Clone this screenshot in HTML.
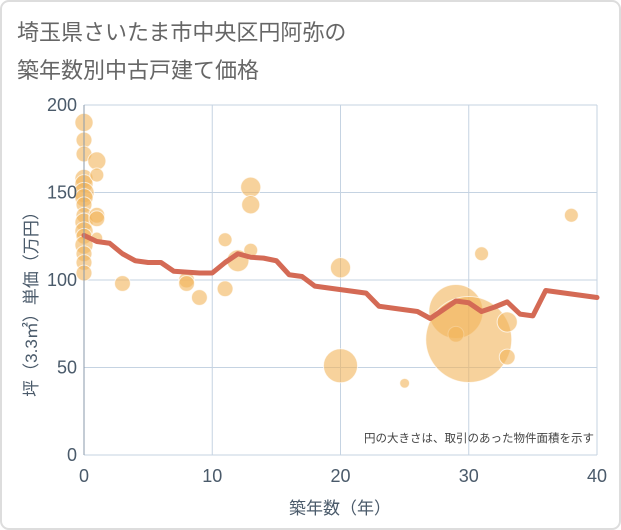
<!DOCTYPE html>
<html><head><meta charset="utf-8"><style>
body{margin:0;background:#fff;}
#wrap{position:relative;width:621px;height:530px;overflow:hidden;font-family:"Liberation Sans","Noto Sans CJK JP",sans-serif;}
</style></head><body>
<div id="wrap">
<svg id="chart" width="621" height="530" xmlns="http://www.w3.org/2000/svg">
<rect x="1" y="1" width="619" height="528" rx="8" fill="#fff" stroke="#ddd" stroke-width="2"/>
<text x="17" y="40" font-size="22" fill="#666">埼玉県さいたま市中央区円阿弥の</text>
<text x="17" y="78" font-size="22" fill="#666">築年数別中古戸建て価格</text>
<g id="grid"></g>
<g id="bubbles"></g>
<g id="line"></g>
<g id="axes"></g>
<text x="594" y="442" font-size="11.5" fill="#444" text-anchor="end">円の大きさは、取引のあった物件面積を示す</text>
<text x="340" y="514" font-size="17" fill="#4a5a6a" text-anchor="middle">築年数（年）</text>
<text transform="translate(37,300) rotate(-90)" font-size="17" fill="#4a5a6a" text-anchor="middle">坪（3.3㎡）単価（万円）</text>
</svg>
</div>
<script>
const xTicks=[0,10,20,30,40];
const yTicks=[0,50,100,150,200];
const lineYears=[0,1,2,3,4,5,6,7,8,9,10,11,12,13,14,15,16,17,18,19,20,21,22,23,24,25,26,27,28,29,30,31,32,33,34,35,36,37,38,39,40];
const lineValues=[125.5,122,121,115,111,110,110,105,104.5,104,104,110,115,113,112.5,111,103,102,96.5,95.5,94.5,93.5,92.5,85,84,83,82,78,83,88,87,82,84.5,87.5,80.5,79.5,94,93,92,91,90];
const bubbleYears=[0,0,0,0,0,0,0,0,0,0,0,0,0,0,0,0,1,1,1,1,1,3,8,8,9,11,11,12,13,13,13,20,20,25,29,29,30,31,33,33,38];
const bubbleValues=[190,180,172,158,155,150,147,143,137,133,128,125,120,115,110,104,168,160,137,135,124,98,100,98,90,123,95,111,153,143,117,107,51,41,82,69,66,115,76,56,137];
const bubbleAreas=[17,13,13,17,17,21,17,13,13,17,17,13,17,13,13,13,17,10,13,13,7,13,13,13,13,10,13,25,21,17,10,21,60,5,151,13,382,10,21,13,10];
const X0=84,X1=597,Y0=455,Y1=105;
const xs=v=>X0+(v-0)/(40-0)*(X1-X0);
const ys=v=>Y0-(v-0)/(200-0)*(Y0-Y1);
const NS="http://www.w3.org/2000/svg";
function mk(tag,attrs,parent){const e=document.createElementNS(NS,tag);for(const k in attrs)e.setAttribute(k,attrs[k]);parent.appendChild(e);return e;}
const grid=document.getElementById('grid'),axes=document.getElementById('axes');
xTicks.forEach(t=>{
 const l=mk('line',{x1:xs(t),x2:xs(t),y1:Y1,y2:Y0,stroke:'#c5d3e2','stroke-width':1},grid);
 
 
 const tx=mk('text',{x:xs(t),y:482,'font-size':18,fill:'#4a5a6a','text-anchor':'middle'},axes);
 tx.textContent=t;
 
 
});
yTicks.forEach(t=>{
 const l=mk('line',{x1:X0,x2:X1,y1:ys(t),y2:ys(t),stroke:'#c5d3e2','stroke-width':1},grid);
 
 
 const tx=mk('text',{x:77,y:ys(t)+6,'font-size':18,fill:'#4a5a6a','text-anchor':'end'},axes);
 tx.textContent=t;
 
 
});
const ax=mk('line',{x1:X0,x2:X0,y1:Y1,y2:Y0,stroke:'#8a9aab','stroke-width':1},axes);


const bg=document.getElementById('bubbles');
bubbleYears.forEach((yr,i)=>{
 const c=mk('circle',{cx:xs(yr),cy:ys(bubbleValues[i]),r:2.2*Math.sqrt(bubbleAreas[i]),fill:'rgba(242,180,90,0.6)',stroke:'rgba(255,255,255,0.7)','stroke-width':1},bg);
 
 
});
const pts=lineYears.map((yr,i)=>xs(yr)+','+ys(lineValues[i])).join(' ');
const pl=mk('polyline',{points:pts,fill:'none',stroke:'#d46a55','stroke-width':5,'stroke-linejoin':'round','stroke-linecap':'round'},document.getElementById('line'));


</script>
</body></html>
